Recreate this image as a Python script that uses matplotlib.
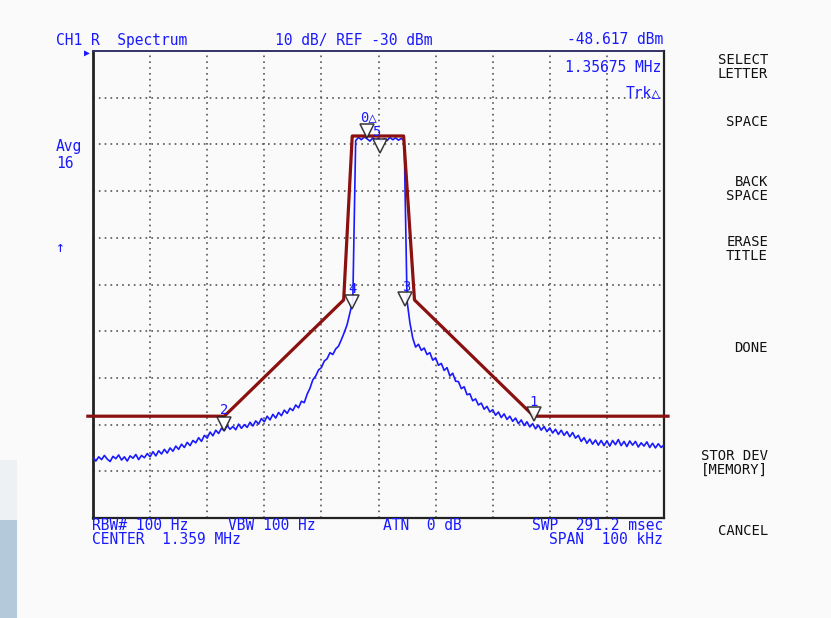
import numpy as np
import matplotlib
matplotlib.use("Agg")
import matplotlib.pyplot as plt
from matplotlib.patches import Rectangle

# frequency offset from centre (kHz), level (dBm)
trace_left = [
    -117.0, -117.8, -116.9, -117.5, -116.6, -117.4, -117.9, -116.8, -117.3, -116.5,
    -117.6, -116.9, -117.8, -116.7, -117.2, -116.4, -117.5, -116.6, -117.1, -116.2,
    -116.9, -115.8, -116.7, -115.6, -116.3, -115.3, -116.1, -115.0, -115.7, -114.6,
    -115.3, -114.2, -114.9, -113.8, -114.5, -113.4, -113.9, -112.8, -113.6, -112.3,
    -112.9, -111.6, -112.4, -111.2, -111.9, -110.8, -111.3, -110.2, -111.0, -110.4,
    -111.1, -109.9, -110.8, -110.0, -110.6, -109.5, -110.3, -109.2, -109.9, -108.7,
    -109.4, -108.2, -109.0, -107.8, -108.6, -107.4, -108.1, -106.9, -107.6, -106.5,
    -107.0, -105.8, -106.4, -105.0, -105.3, -103.5, -102.2, -100.4, -99.6, -98.3,
    -97.8, -96.4, -95.9, -94.6, -95.0, -93.8, -93.2, -91.8, -90.3, -88.6,
    -86.0, -83.5,
]
trace_top = [
    -49.2, -48.5, -49.0, -48.4, -48.8, -49.3, -48.6, -49.1, -48.7, -49.4,
    -48.8, -49.2, -48.5, -49.0, -48.6, -49.1, -48.7, -49.3,
]
trace_right = [
    -83.5, -88.2, -91.5, -93.4, -92.8, -94.1, -93.6, -95.0, -94.6, -96.2,
    -95.7, -97.3, -96.9, -98.4, -97.8, -99.6, -99.0, -100.7, -100.8, -102.3,
    -101.9, -103.6, -103.4, -104.9, -104.5, -105.8, -105.4, -106.7, -106.1, -107.3,
    -106.8, -108.0, -107.3, -108.5, -107.7, -108.9, -108.2, -109.3, -108.6, -109.8,
    -109.0, -110.2, -109.4, -110.5, -109.8, -110.9, -110.1, -111.2, -110.4, -111.5,
    -110.7, -111.8, -111.0, -112.1, -111.2, -112.3, -111.5, -112.6, -111.7, -112.9,
    -112.3, -113.6, -112.8, -114.0, -113.1, -114.2, -113.3, -114.4, -113.4, -114.5,
    -113.5, -114.6, -113.4, -114.3, -113.2, -114.5, -113.6, -114.7, -113.5, -114.4,
    -113.6, -114.8, -113.9, -114.6, -113.7, -114.9, -114.0, -115.0, -114.1, -114.9,
    -114.3,
]

mask_f = [-50.9, -27.0, -6.1, -4.6, 4.4, 6.3, 27.2, 50.7]
mask_db = [-108.2, -108.2, -83.3, -48.2, -48.2, -83.3, -108.2, -108.2]

marker_names = ["0△", "5", "4", "3", "2", "1"]
marker_f = [-2.1, 0.2, -4.7, 4.7, -27.0, 27.2]
marker_db = [-47.1, -50.3, -83.7, -83.1, -109.9, -107.7]
label_f = [-1.75, -0.35, -4.6, 4.9, -27.0, 27.2]
label_db = [-44.1, -47.3, -81.0, -80.5, -106.9, -105.2]

menu = ["SELECT\nLETTER", "SPACE", "BACK\nSPACE", "ERASE\nTITLE", "DONE",
        "STOR DEV\n[MEMORY]", "CANCEL"]
menu_y = [67, 122, 189, 249, 348, 463, 531]

blue = "#1a1aff"
mono = ["DejaVu Sans Mono", "DejaVu Sans"]
W, H = 831, 618

f_left = -50 + 0.5 * np.arange(len(trace_left))
f_top = -4.0 + 0.5 * np.arange(len(trace_top))
f_right = 5.0 + 0.5 * np.arange(len(trace_right))
freq = np.concatenate([f_left, f_top, f_right])
level = np.concatenate([trace_left, trace_top, trace_right])

fig = plt.figure(figsize=(W / 100, H / 100), dpi=100)
fig.patch.set_facecolor("#fafafa")
ax = fig.add_axes([93 / W, 1 - 518 / H, 571 / W, 467 / H])
ax.set_facecolor("#fafafa")
ax.set_xlim(-50, 50)
ax.set_ylim(-130, -30)
ax.set_xticks(np.arange(-40, 50, 10))
ax.set_yticks(np.arange(-120, -30, 10))
ax.tick_params(length=0, labelbottom=False, labelleft=False)
ax.grid(True, color="#555555", linestyle=(0, (1, 2.5)), linewidth=1.2)
for s in ["left", "bottom", "right"]:
    ax.spines[s].set_color("#222222")
ax.spines["left"].set_linewidth(2)
ax.spines["bottom"].set_linewidth(1.6)
ax.spines["right"].set_linewidth(1.6)
ax.spines["top"].set_color("#333366")
ax.spines["top"].set_linestyle((0, (2, 1)))
ax.spines["top"].set_linewidth(1.4)

ax.plot(freq, level, color=blue, linewidth=1.2, zorder=3)
ax.plot(mask_f, mask_db, color="#8b1010", linewidth=2.3, clip_on=False, zorder=4)
ax.plot(marker_f, marker_db, linestyle="none", marker="v", markersize=10.5,
        markerfacecolor="white", markeredgecolor="#222222", markeredgewidth=1.1,
        alpha=0.9, zorder=5)
for name, x, y in zip(marker_names, label_f, label_db):
    ax.text(x, y, name, color=blue, fontsize=10, family=mono, ha="center", va="center", zorder=6)


def ftext(x, y, s, **kw):
    kw.setdefault("color", blue)
    kw.setdefault("fontsize", 10.5)
    kw.setdefault("va", "center")
    fig.text(x / W, 1 - y / H, s, family=mono, **kw)


ftext(56, 40, "CH1 R  Spectrum")
ftext(275, 40, "10 dB/ REF -30 dBm")
ftext(663, 40, "-48.617 dBm", ha="right")
ftext(661, 68, "1.35675 MHz", ha="right")
ftext(661, 93, "Trk△", ha="right")
ftext(56, 147, "Avg")
ftext(56, 163, "16")
ftext(56, 248, "↑")
ftext(84, 53, "▶", fontsize=7)
ftext(92, 526, "RBW# 100 Hz")
ftext(228, 526, "VBW 100 Hz")
ftext(383, 526, "ATN  0 dB")
ftext(663, 526, "SWP  291.2 msec", ha="right")
ftext(92, 540, "CENTER  1.359 MHz")
ftext(663, 540, "SPAN  100 kHz", ha="right")

for label, y in zip(menu, menu_y):
    ftext(768, y, label, ha="right", color="#111111", fontsize=10, linespacing=0.95)

# blue corner from the screen capture
fig.patches.append(Rectangle((0, 0), 17 / W, 98 / H, transform=fig.transFigure,
                             facecolor="#b4cadb", edgecolor="none"))
fig.patches.append(Rectangle((0, 98 / H), 17 / W, 60 / H, transform=fig.transFigure,
                             facecolor="#edf1f4", edgecolor="none"))

fig.savefig("out.png", dpi=100, facecolor=fig.get_facecolor())
